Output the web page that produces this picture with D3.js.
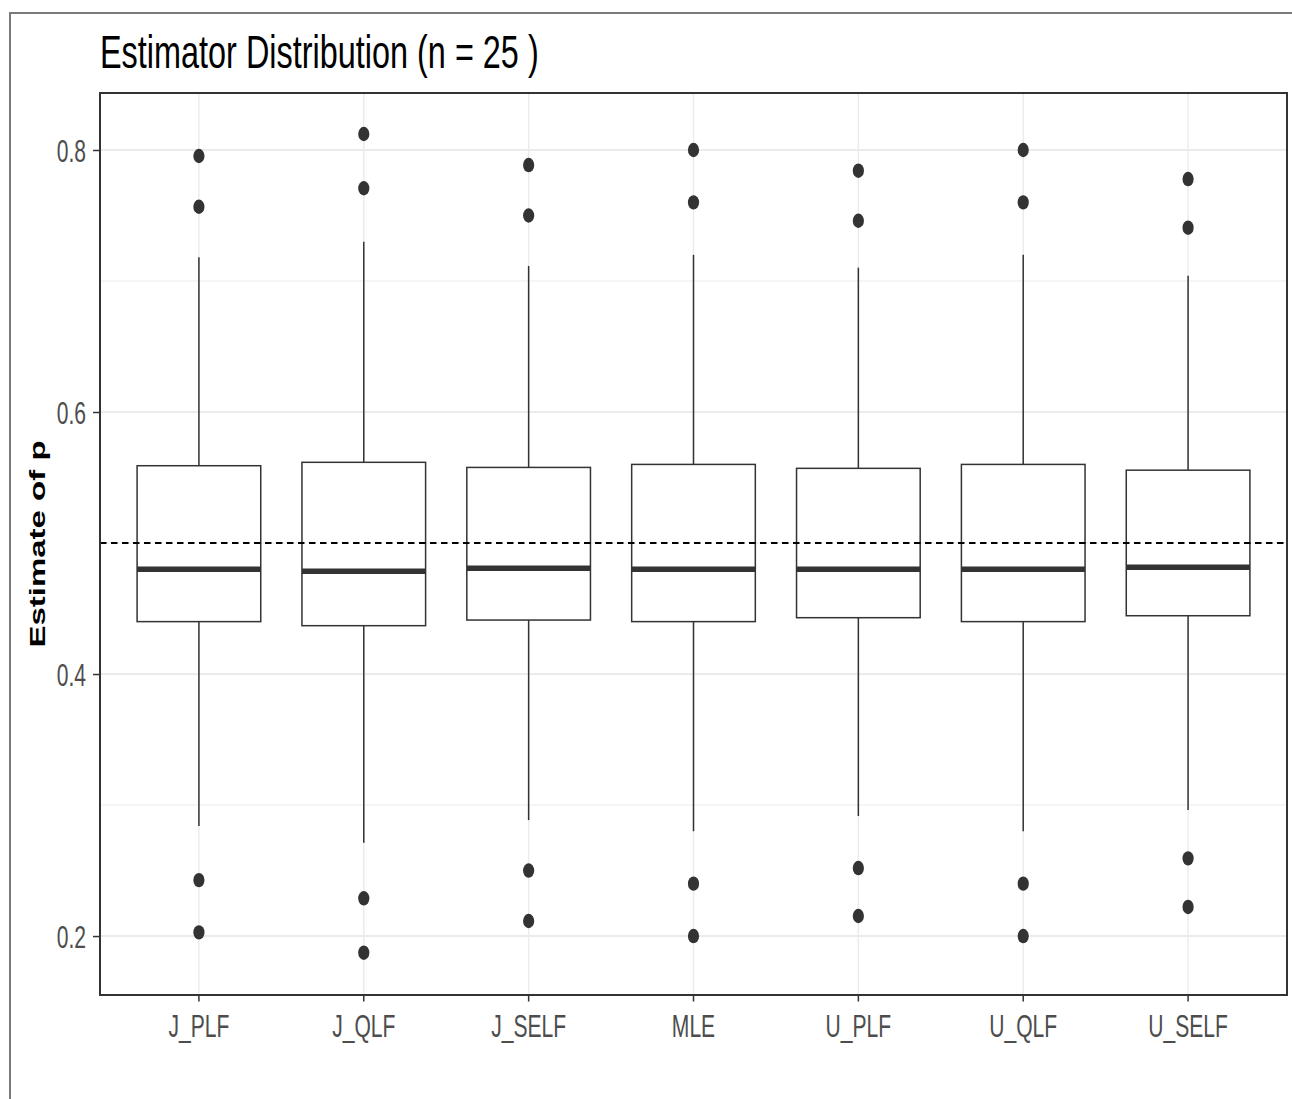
<!DOCTYPE html>
<html>
<head>
<meta charset="utf-8">
<script src="https://cdn.jsdelivr.net/npm/d3@7"></script>
<style>
  body { margin: 0; background: #fff; }
  svg { display: block; }
  text { font-family: "Liberation Sans", Arial, sans-serif; }
</style>
</head>
<body>
<svg id="chart"></svg>
<script>
// estimators on the x axis
var categories = ["J_PLF", "J_QLF", "J_SELF", "MLE", "U_PLF", "U_QLF", "U_SELF"];

// box statistics
var q1 = [0.4400, 0.4369, 0.4412, 0.4400, 0.4430, 0.4400, 0.4445];
var medians = [0.4800, 0.4784, 0.4808, 0.4800, 0.4800, 0.4800, 0.4815];
var q3 = [0.5590, 0.5616, 0.5577, 0.5600, 0.5570, 0.5600, 0.5556];
var whiskerLow = [0.2840, 0.2712, 0.2885, 0.2800, 0.2916, 0.2800, 0.2963];
var whiskerHigh = [0.7181, 0.7300, 0.7115, 0.7200, 0.7102, 0.7200, 0.7040];
var outliers = [
  [0.7954, 0.7567, 0.2427, 0.2028],
  [0.8122, 0.7708, 0.2288, 0.1873],
  [0.7885, 0.7500, 0.2500, 0.2115],
  [0.8000, 0.7600, 0.2400, 0.2000],
  [0.7842, 0.7460, 0.2519, 0.2153],
  [0.8000, 0.7600, 0.2400, 0.2000],
  [0.7778, 0.7407, 0.2593, 0.2222]
];

var trueP = 0.5;
var majorTicks = [0.2, 0.4, 0.6, 0.8];
var minorTicks = [0.3, 0.5, 0.7];

var W = 1292, H = 1099;
var panel = {left: 100, right: 1287, top: 93, bottom: 995};
var sx = 0.68; // narrow look of the text

var svg = d3.select("#chart").attr("width", W).attr("height", H);

svg.append("rect").attr("width", W).attr("height", H).attr("fill", "#fff");

// border of the screenshot
svg.append("path")
    .attr("d", "M10," + H + "V13H" + W)
    .attr("fill", "none")
    .attr("stroke", "#7a7a7a")
    .attr("stroke-width", 2);

var x = d3.scalePoint()
    .domain(categories)
    .range([panel.left, panel.right])
    .padding(0.6);

var y = d3.scaleLinear()
    .domain([0.155, 0.8435])
    .range([panel.bottom, panel.top]);

var boxW = x.step() * 0.75;

// grid
var grid = svg.append("g");
grid.selectAll(".minor").data(minorTicks).enter().append("line")
    .attr("x1", panel.left).attr("x2", panel.right)
    .attr("y1", function(d) { return y(d); })
    .attr("y2", function(d) { return y(d); })
    .attr("stroke", "#ebebeb").attr("stroke-width", 1);
grid.selectAll(".major").data(majorTicks).enter().append("line")
    .attr("x1", panel.left).attr("x2", panel.right)
    .attr("y1", function(d) { return y(d); })
    .attr("y2", function(d) { return y(d); })
    .attr("stroke", "#ebebeb").attr("stroke-width", 2);
grid.selectAll(".vmajor").data(categories).enter().append("line")
    .attr("x1", function(d) { return x(d); })
    .attr("x2", function(d) { return x(d); })
    .attr("y1", panel.top).attr("y2", panel.bottom)
    .attr("stroke", "#ebebeb").attr("stroke-width", 1.4);

// boxplots
var boxes = svg.append("g").selectAll("g").data(categories).enter().append("g");

boxes.append("line")
    .attr("x1", function(d) { return x(d); })
    .attr("x2", function(d) { return x(d); })
    .attr("y1", function(d, i) { return y(whiskerHigh[i]); })
    .attr("y2", function(d, i) { return y(q3[i]); })
    .attr("stroke", "#333").attr("stroke-width", 1.5);

boxes.append("line")
    .attr("x1", function(d) { return x(d); })
    .attr("x2", function(d) { return x(d); })
    .attr("y1", function(d, i) { return y(q1[i]); })
    .attr("y2", function(d, i) { return y(whiskerLow[i]); })
    .attr("stroke", "#333").attr("stroke-width", 1.5);

boxes.append("rect")
    .attr("x", function(d) { return x(d) - boxW / 2; })
    .attr("width", boxW)
    .attr("y", function(d, i) { return y(q3[i]); })
    .attr("height", function(d, i) { return y(q1[i]) - y(q3[i]); })
    .attr("fill", "#fff")
    .attr("stroke", "#333").attr("stroke-width", 1.5);

boxes.append("line")
    .attr("x1", function(d) { return x(d) - boxW / 2; })
    .attr("x2", function(d) { return x(d) + boxW / 2; })
    .attr("y1", function(d, i) { return y(medians[i]); })
    .attr("y2", function(d, i) { return y(medians[i]); })
    .attr("stroke", "#333").attr("stroke-width", 5.5);

boxes.selectAll("ellipse")
    .data(function(d, i) { return outliers[i].map(function(v) { return {c: d, v: v}; }); })
    .enter().append("ellipse")
    .attr("cx", function(d) { return x(d.c); })
    .attr("cy", function(d) { return y(d.v); })
    .attr("rx", 5.6)
    .attr("ry", 7.2)
    .attr("fill", "#333");

// reference line at the true p
svg.append("line")
    .attr("x1", panel.left).attr("x2", panel.right)
    .attr("y1", y(trueP)).attr("y2", y(trueP))
    .attr("stroke", "#000")
    .attr("stroke-width", 2)
    .attr("stroke-dasharray", "6.5,4.5");

// panel border
svg.append("rect")
    .attr("x", panel.left).attr("y", panel.top)
    .attr("width", panel.right - panel.left)
    .attr("height", panel.bottom - panel.top)
    .attr("fill", "none")
    .attr("stroke", "#333").attr("stroke-width", 2);

// axes
var yAxis = svg.append("g")
    .attr("transform", "translate(" + panel.left + ",0)")
    .call(d3.axisLeft(y).tickValues(majorTicks).tickSize(7).tickFormat(d3.format(".1f")));
yAxis.select(".domain").remove();
yAxis.selectAll("line").attr("stroke", "#333").attr("stroke-width", 1.5);
yAxis.selectAll("text")
    .attr("x", -14 / sx)
    .attr("dy", "0.36em")
    .attr("transform", "scale(" + sx + ",1)")
    .attr("fill", "#4d4d4d")
    .attr("font-size", 31)
    .attr("font-family", "Liberation Sans, Arial, sans-serif");

var xAxis = svg.append("g")
    .attr("transform", "translate(0," + panel.bottom + ")")
    .call(d3.axisBottom(x).tickSize(6.5));
xAxis.select(".domain").remove();
xAxis.selectAll("line").attr("stroke", "#333").attr("stroke-width", 1.5);
xAxis.selectAll("text")
    .attr("y", 42)
    .attr("dy", 0)
    .attr("transform", "scale(" + sx + ",1)")
    .attr("fill", "#4d4d4d")
    .attr("font-size", 31)
    .attr("font-family", "Liberation Sans, Arial, sans-serif");
xAxis.selectAll(".tick").attr("transform", function(d) { return "translate(" + x(d) + ",0)"; });

// title
svg.append("g")
    .attr("transform", "translate(100,68) scale(0.705,1)")
    .append("text")
    .attr("font-size", 46)
    .attr("fill", "#000")
    .text("Estimator Distribution (n = 25 )");

// y axis title
svg.append("g")
    .attr("transform", "translate(45," + ((panel.top + panel.bottom) / 2) + ") scale(" + sx + ",1) rotate(-90)")
    .append("text")
    .attr("text-anchor", "middle")
    .attr("font-size", 33)
    .attr("font-weight", "bold")
    .attr("fill", "#000")
    .text("Estimate of p");
</script>
</body>
</html>
